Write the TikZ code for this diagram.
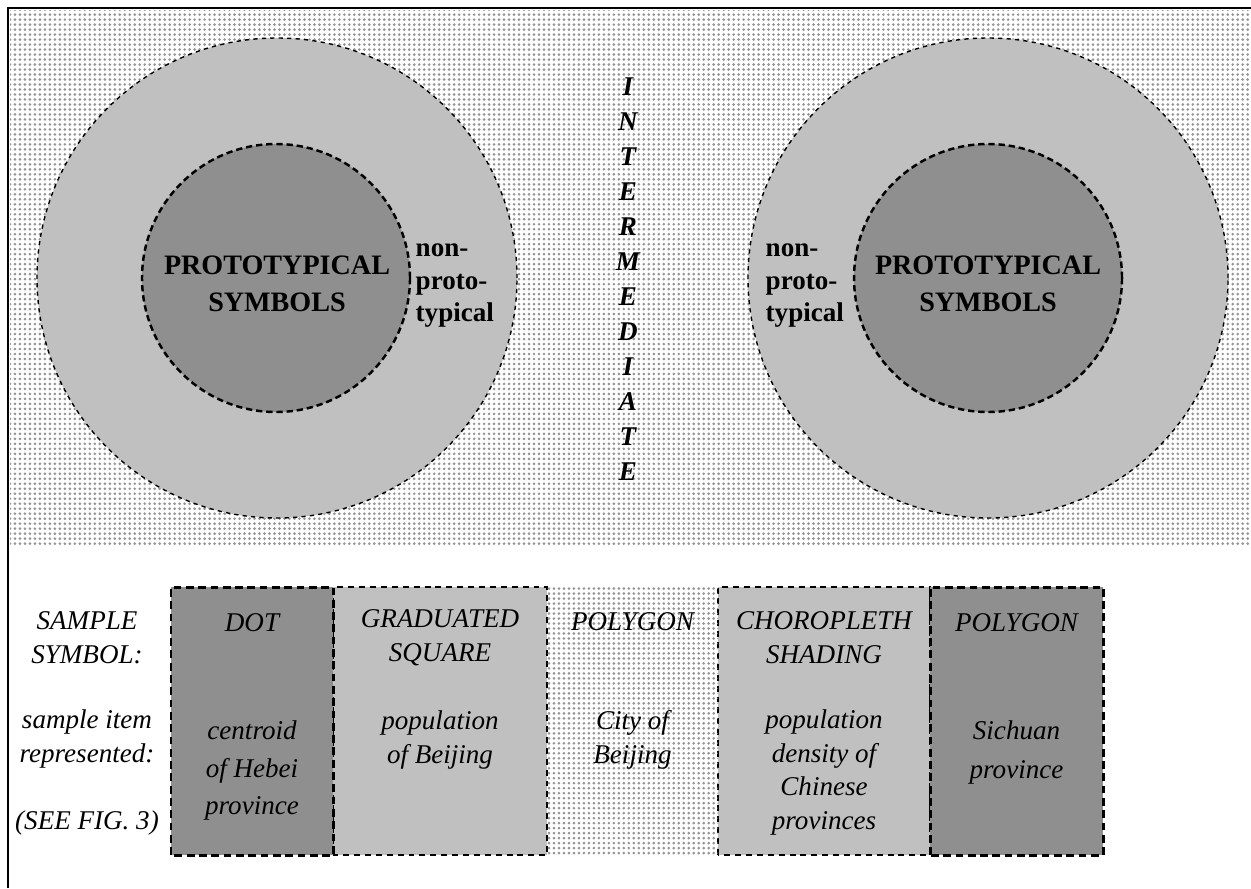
\documentclass[tikz,border=0pt]{standalone}
\usepackage{fontspec}
\setmainfont{Liberation Serif}
\usetikzlibrary{patterns.meta}

\definecolor{ringgray}{HTML}{C0C0C0}
\definecolor{coregray}{HTML}{8F8F8F}
\definecolor{dotgray}{HTML}{959595}

\tikzset{
    dotfill/.style={pattern={Dots[distance=1.42pt, radius=0.42pt]}, pattern color=dotgray},
    ring/.style={fill=ringgray, draw, line width=0.4pt, dash pattern=on 1.2pt off 1.2pt},
    core/.style={fill=coregray, draw, line width=0.7pt, dash pattern=on 1.8pt off 1.1pt},
    lightbox/.style={fill=ringgray, draw, line width=0.4pt, dash pattern=on 1.7pt off 1.4pt},
    darkbox/.style={fill=coregray, draw, line width=0.85pt, dash pattern=on 2.2pt off 1.3pt},
    headline/.style={font=\bfseries\fontsize{8}{10.5}\selectfont, align=center, inner sep=0pt},
    sideline/.style={font=\bfseries\fontsize{7.7}{9.25}\selectfont, align=left, inner sep=0pt, anchor=west},
    vertword/.style={font=\bfseries\itshape\fontsize{7.7}{9.96}\selectfont, align=center, inner sep=0pt},
    itemtext/.style={font=\itshape\fontsize{7.7}{9.8}\selectfont, align=center, inner sep=0pt}
}

\begin{document}
\begin{tikzpicture}
\fill[white] (0.0, 0.0) rectangle (12.51, 8.88);
\useasboundingbox (0.0, 0.0) rectangle (12.51, 8.88);

% dotted field and frame
\fill[dotfill] (0.10, 3.43) rectangle (12.51, 8.78);
\draw[line width=0.85pt]
    (0.08, 0.0) -- (0.08, 8.80) -- (12.51, 8.80);

% two circles of symbols
\draw[ring] (2.77, 6.10) circle (2.40);
\draw[core] (2.76, 6.10) circle (1.34);
\draw[ring] (9.88, 6.10) circle (2.40);
\draw[core] (9.88, 6.10) circle (1.34);

\node[headline] (protoleft) at (2.77, 6.04) {PROTOTYPICAL\\SYMBOLS};
\node[headline] (protoright) at (9.88, 6.04) {PROTOTYPICAL\\SYMBOLS};
\node[sideline] (nonleft) at (4.15, 6.02) {non-\\proto-\\typical};
\node[sideline] (nonright) at (7.65, 6.02) {non-\\proto-\\typical};

\node[vertword] (intermediate) at (6.28, 6.085) {I\\N\\T\\E\\R\\M\\E\\D\\I\\A\\T\\E};

% sample boxes
\draw[lightbox] (3.33, 0.33) rectangle (5.47, 3.01);
\draw[lightbox] (7.18, 0.33) rectangle (9.30, 3.01);
\fill[dotfill] (5.47, 0.33) rectangle (7.18, 3.01);
\draw[darkbox] (1.71, 0.33) rectangle (3.33, 3.01);
\draw[darkbox] (9.30, 0.33) rectangle (11.03, 3.01);

\node[itemtext] (symhead) at (0.87, 2.505) {SAMPLE\\SYMBOL:};
\node[itemtext] (itemhead) at (0.87, 1.49) {sample item\\represented:};
\node[itemtext] (seefig) at (0.87, 0.65) {(SEE FIG. 3)};

\node[itemtext] (dothead) at (2.52, 2.65) {DOT};
\node[itemtext, font=\itshape\fontsize{7.7}{10.7}\selectfont] (dotitem) at (2.52, 1.175) {centroid\\of Hebei\\province};
\node[itemtext] (gradhead) at (4.40, 2.505) {GRADUATED\\SQUARE};
\node[itemtext] (graditem) at (4.40, 1.48) {population\\of Beijing};
\node[itemtext] (polyhead) at (6.325, 2.66) {POLYGON};
\node[itemtext] (polyitem) at (6.325, 1.48) {City of\\Beijing};
\node[itemtext] (chorohead) at (8.24, 2.505) {CHOROPLETH\\SHADING};
\node[itemtext, font=\itshape\fontsize{7.7}{9.6}\selectfont] (choroitem) at (8.24, 1.155) {population\\density of\\Chinese\\provinces};
\node[itemtext] (provhead) at (10.165, 2.65) {POLYGON};
\node[itemtext, font=\itshape\fontsize{7.7}{11.1}\selectfont] (provitem) at (10.165, 1.355) {Sichuan\\province};
\end{tikzpicture}
\end{document}
